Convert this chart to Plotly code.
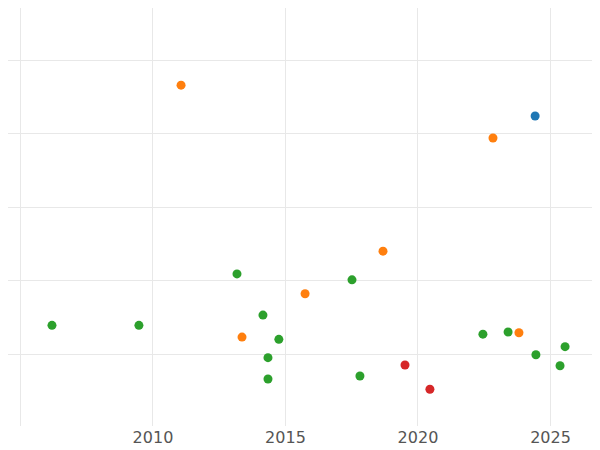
import plotly.graph_objects as go

# values (x = year, y = unitless)
blue_x = [2024.42]
blue_y = [3.24]
orange_x = [2011.06, 2022.83, 2018.68, 2015.74, 2013.36, 2023.81]
orange_y = [3.66, 2.94, 1.40, 0.82, 0.23, 0.29]
green_x = [2006.19, 2009.47, 2013.17, 2017.51, 2014.15, 2014.75, 2014.34, 2014.34,
           2017.81, 2022.45, 2023.40, 2024.45, 2025.55, 2025.36]
green_y = [0.39, 0.39, 1.09, 1.01, 0.53, 0.20, -0.05, -0.34,
           -0.30, 0.27, 0.30, -0.01, 0.10, -0.16]
red_x = [2019.51, 2020.45]
red_y = [-0.15, -0.48]
tick_years = [2005, 2010, 2015, 2020, 2025]
tick_text = ["", "2010", "2015", "2020", "2025"]

fig = go.Figure()
for xs, ys, col in [(blue_x, blue_y, "#1f77b4"), (orange_x, orange_y, "#ff7f0e"),
                    (green_x, green_y, "#2ca02c"), (red_x, red_y, "#d62728")]:
    fig.add_trace(go.Scatter(x=xs, y=ys, mode="markers",
                             marker=dict(color=col, size=9)))

fig.update_layout(
    width=600, height=450, showlegend=False,
    plot_bgcolor="white", paper_bgcolor="white",
    margin=dict(l=0, r=0, t=0, b=32),
    font=dict(family="DejaVu Sans", size=16, color="#555"),
    xaxis=dict(range=[2004.53, 2027.17], tickvals=tick_years, ticktext=tick_text,
               showgrid=True, gridcolor="#e8e8e8", zeroline=False, ticks=""),
    yaxis=dict(range=[-0.98, 4.71], dtick=1, showgrid=True, gridcolor="#e8e8e8",
               showticklabels=False, zeroline=False),
)
fig.write_html("out.html")
